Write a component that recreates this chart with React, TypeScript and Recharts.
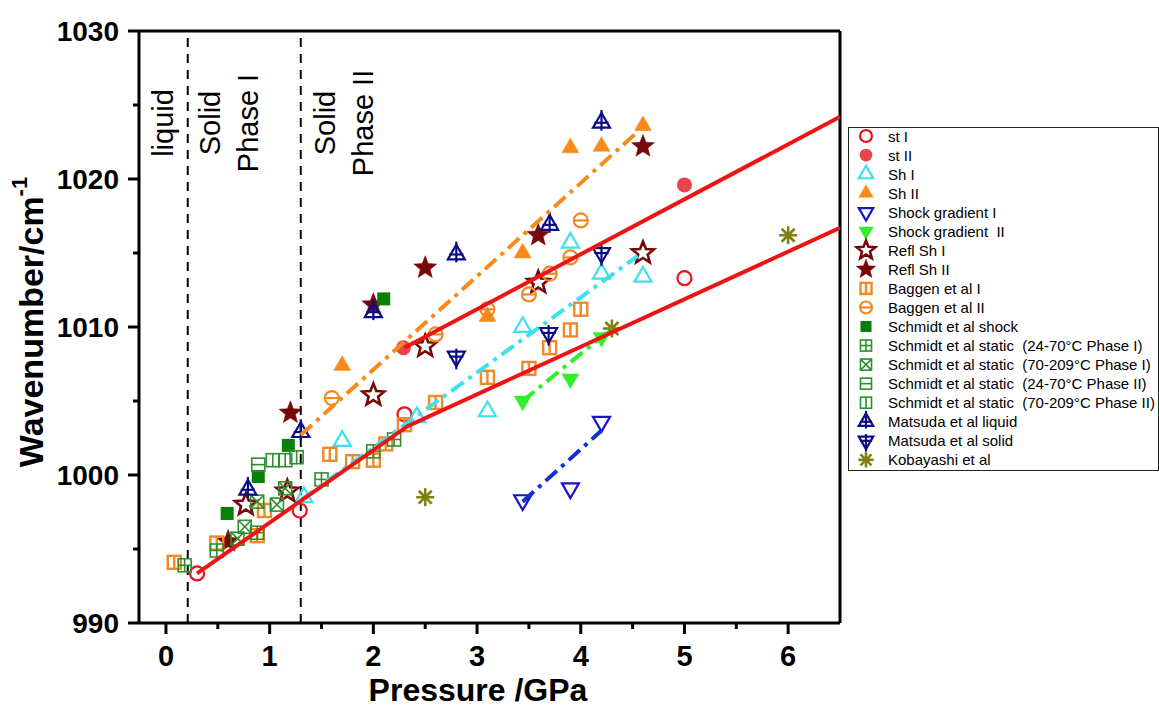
import React from 'react';
import { ComposedChart, Scatter, XAxis, YAxis, ReferenceLine, Legend } from 'recharts';

// ---------- data (pressure GPa, wavenumber cm-1) ----------
const stI = [[0.3, 993.35], [1.29, 997.6], [2.3, 1004.1], [5.0, 1013.3]];
const stII = [[2.29, 1008.6], [5.0, 1019.6]];
const shI = [[1.33, 998.5], [1.7, 1002.3], [2.42, 1003.9], [3.1, 1004.3], [3.44, 1010.0], [3.9, 1015.7], [4.2, 1013.6], [4.6, 1013.4]];
const shII = [[1.7, 1007.4], [3.1, 1010.7], [3.44, 1015.0], [3.9, 1022.1], [4.2, 1022.2], [4.6, 1023.6]];
const shockI = [[3.44, 998.3], [3.9, 999.1], [4.2, 1003.6]];
const shockII = [[3.44, 1005.0], [3.9, 1006.5], [4.2, 1009.3]];
const reflI = [[0.77, 998.0], [1.17, 998.9], [2.0, 1005.4], [2.5, 1008.7], [3.59, 1013.0], [4.6, 1015.0]];
const reflII = [[0.6, 995.5], [1.2, 1004.2], [2.0, 1011.5], [2.5, 1014.0], [3.59, 1016.2], [4.6, 1022.2]];
const baggenI = [[0.08, 994.1], [0.49, 995.4], [0.88, 995.9], [0.95, 997.6], [1.58, 1001.4], [1.8, 1000.9], [2.0, 1001.0], [2.12, 1002.1], [2.3, 1003.4], [2.6, 1004.9], [3.1, 1006.6], [3.5, 1007.2], [3.7, 1008.6], [3.9, 1009.8], [4.0, 1011.2]];
const baggenII = [[1.6, 1005.2], [2.6, 1009.5], [3.1, 1011.2], [3.5, 1012.2], [3.7, 1013.6], [3.9, 1014.7], [4.0, 1017.2]];
const schmidtShock = [[0.59, 997.4], [0.89, 999.9], [1.18, 1002.0], [2.1, 1011.9]];
const schmidtStatic1 = [[0.18, 993.9], [0.49, 994.9], [0.88, 996.1], [1.5, 999.7], [2.0, 1001.6], [2.2, 1002.4]];
const schmidtStatic2 = [[0.69, 995.7], [0.76, 996.5], [0.88, 998.2], [1.07, 998.0], [1.15, 999.1]];
const schmidtStatic3 = [[0.89, 1000.7]];
const schmidtStatic4 = [[1.03, 1001.0], [1.15, 1001.0], [1.26, 1001.2]];
const matsudaLiquid = [[0.79, 999.0], [1.3, 1002.9], [2.0, 1011.0], [2.8, 1014.9], [3.7, 1016.9], [4.2, 1023.8]];
const matsudaSolid = [[2.8, 1008.0], [3.69, 1009.6], [4.2, 1015.0]];
const kobayashi = [[2.5, 998.5], [4.3, 1009.9], [6.0, 1016.2]];

// fit lines
const fitStI = [[0.3, 993.35], [2.33, 1003.3], [6.5, 1016.7]];
const fitStII = [[2.3, 1008.6], [6.5, 1024.2]];
const fitShII = [[1.3, 1002.7], [4.55, 1023.2]];
const fitShI = [[1.3, 998.3], [4.55, 1014.8]];
const fitShockII = [[3.44, 1005.0], [4.3, 1009.9]];
const fitShockI = [[3.44, 998.2], [4.2, 1003.0]];

const phaseBounds = [0.21, 1.3];
const xTicks = [0, 0.5, 1, 1.5, 2, 2.5, 3, 3.5, 4, 4.5, 5, 5.5, 6];
const yTicks = [990, 995, 1000, 1005, 1010, 1015, 1020, 1025, 1030];

const FONT = 'Liberation Sans, Arial, sans-serif';
const toPts = (a: number[][]) => a.map(([x, y]) => ({ x, y }));

type Kind = 'circle' | 'circleFill' | 'triUp' | 'triUpFill' | 'triDown' | 'triDownFill' | 'star' | 'starFill' |
  'sqV' | 'circleH' | 'sqFill' | 'sqPlus' | 'sqX' | 'sqH' | 'triUpPlus' | 'triDownPlus' | 'asterisk';

function starPts(cx: number, cy: number, R: number, r: number) {
  const p: string[] = [];
  for (let i = 0; i < 10; i++) {
    const a = -Math.PI / 2 + (i * Math.PI) / 5;
    const rr = i % 2 === 0 ? R : r;
    p.push(`${cx + rr * Math.cos(a)},${cy + rr * Math.sin(a)}`);
  }
  return p.join(' ');
}

function marker(kind: Kind, color: string, cx: number, cy: number, k = 1) {
  const sw = 2.2;
  switch (kind) {
    case 'circle':
      return <circle cx={cx} cy={cy} r={7 * k} fill="none" stroke={color} strokeWidth={sw} />;
    case 'circleFill':
      return <circle cx={cx} cy={cy} r={7.5 * k} fill={color} />;
    case 'circleH':
      return (
        <g>
          <circle cx={cx} cy={cy} r={7 * k} fill="none" stroke={color} strokeWidth={sw} />
          <line x1={cx - 7 * k} x2={cx + 7 * k} y1={cy} y2={cy} stroke={color} strokeWidth={sw} />
        </g>
      );
    case 'triUp':
    case 'triUpFill':
    case 'triUpPlus': {
      const s = 17 * k, h = s * 0.866;
      const pts = `${cx},${cy - (2 * h) / 3} ${cx - s / 2},${cy + h / 3} ${cx + s / 2},${cy + h / 3}`;
      const fill = kind === 'triUpFill' ? color : 'none';
      return (
        <g>
          <polygon points={pts} fill={fill} stroke={color} strokeWidth={kind === 'triUpFill' ? 0.5 : sw} strokeLinejoin="miter" />
          {kind === 'triUpPlus' && (
            <g stroke={color} strokeWidth={sw}>
              <line x1={cx} x2={cx} y1={cy - (2 * h) / 3 - 3 * k} y2={cy + h / 3 + 3 * k} />
              <line x1={cx - s * 0.42} x2={cx + s * 0.42} y1={cy} y2={cy} />
            </g>
          )}
        </g>
      );
    }
    case 'triDown':
    case 'triDownFill':
    case 'triDownPlus': {
      const s = 17 * k, h = s * 0.866;
      const pts = `${cx},${cy + (2 * h) / 3} ${cx - s / 2},${cy - h / 3} ${cx + s / 2},${cy - h / 3}`;
      const fill = kind === 'triDownFill' ? color : 'none';
      return (
        <g>
          <polygon points={pts} fill={fill} stroke={color} strokeWidth={kind === 'triDownFill' ? 0.5 : sw} />
          {kind === 'triDownPlus' && (
            <g stroke={color} strokeWidth={sw}>
              <line x1={cx} x2={cx} y1={cy - h / 3 - 3 * k} y2={cy + (2 * h) / 3 + 3 * k} />
              <line x1={cx - s * 0.42} x2={cx + s * 0.42} y1={cy} y2={cy} />
            </g>
          )}
        </g>
      );
    }
    case 'star':
      return <polygon points={starPts(cx, cy, 11.5 * k, 5 * k)} fill="none" stroke={color} strokeWidth={2.6} strokeLinejoin="miter" />;
    case 'starFill':
      return <polygon points={starPts(cx, cy, 12 * k, 5.2 * k)} fill={color} stroke={color} strokeWidth={0.5} />;
    case 'sqFill': {
      const a = 6.5 * k;
      return <rect x={cx - a} y={cy - a} width={2 * a} height={2 * a} fill={color} />;
    }
    case 'sqV':
    case 'sqPlus':
    case 'sqX':
    case 'sqH': {
      const a = 6.5 * k;
      return (
        <g stroke={color} strokeWidth={kind === 'sqV' && color.startsWith('#f') ? 2.4 : 1.6} fill="none">
          <rect x={cx - a} y={cy - a} width={2 * a} height={2 * a} />
          {(kind === 'sqV' || kind === 'sqPlus') && <line x1={cx} x2={cx} y1={cy - a} y2={cy + a} />}
          {(kind === 'sqH' || kind === 'sqPlus') && <line x1={cx - a} x2={cx + a} y1={cy} y2={cy} />}
          {kind === 'sqX' && (
            <g>
              <line x1={cx - a} x2={cx + a} y1={cy - a} y2={cy + a} />
              <line x1={cx - a} x2={cx + a} y1={cy + a} y2={cy - a} />
            </g>
          )}
        </g>
      );
    }
    case 'asterisk': {
      const L = 9 * k, d = L * 0.72;
      return (
        <g stroke={color} strokeWidth={2.6}>
          <line x1={cx} x2={cx} y1={cy - L} y2={cy + L} />
          <line x1={cx - L} x2={cx + L} y1={cy} y2={cy} />
          <line x1={cx - d} x2={cx + d} y1={cy - d} y2={cy + d} />
          <line x1={cx - d} x2={cx + d} y1={cy + d} y2={cy - d} />
        </g>
      );
    }
  }
  return <g />;
}

const C = {
  red: '#e8141c', red2: '#e9444c', cyan: '#3ee0ee', orange: '#f98a1a', blue: '#1414c8', green: '#2ef02e',
  refl: '#780808', baggen: '#f08a24', sShock: '#0a7f0a', sStatic: '#2f8f2f', matsuda: '#0c0c86', koba: '#7f7f12',
};

const series: { name: string; data: number[][]; kind: Kind; color: string }[] = [
  { name: 'st I', data: stI, kind: 'circle', color: C.red },
  { name: 'st II', data: stII, kind: 'circleFill', color: C.red2 },
  { name: 'Sh I', data: shI, kind: 'triUp', color: C.cyan },
  { name: 'Sh II', data: shII, kind: 'triUpFill', color: C.orange },
  { name: 'Shock gradient I', data: shockI, kind: 'triDown', color: C.blue },
  { name: 'Shock gradient  II', data: shockII, kind: 'triDownFill', color: C.green },
  { name: 'Refl Sh I', data: reflI, kind: 'star', color: C.refl },
  { name: 'Refl Sh II', data: reflII, kind: 'starFill', color: C.refl },
  { name: 'Baggen et al I', data: baggenI, kind: 'sqV', color: C.baggen },
  { name: 'Baggen et al II', data: baggenII, kind: 'circleH', color: C.baggen },
  { name: 'Schmidt et al shock', data: schmidtShock, kind: 'sqFill', color: C.sShock },
  { name: 'Schmidt et al static  (24-70\u00B0C Phase I)', data: schmidtStatic1, kind: 'sqPlus', color: C.sStatic },
  { name: 'Schmidt et al static  (70-209\u00B0C Phase I)', data: schmidtStatic2, kind: 'sqX', color: C.sStatic },
  { name: 'Schmidt et al static  (24-70\u00B0C Phase II)', data: schmidtStatic3, kind: 'sqH', color: C.sStatic },
  { name: 'Schmidt et al static  (70-209\u00B0C Phase II)', data: schmidtStatic4, kind: 'sqV', color: C.sStatic },
  { name: 'Matsuda et al liquid', data: matsudaLiquid, kind: 'triUpPlus', color: C.matsuda },
  { name: 'Matsuda et al solid', data: matsudaSolid, kind: 'triDownPlus', color: C.matsuda },
  { name: 'Kobayashi et al', data: kobayashi, kind: 'asterisk', color: C.koba },
];

const DASHDOT = '15 6 4 6';
const fits: { data: number[][]; color: string; dash?: string }[] = [
  { data: fitShII, color: C.orange, dash: DASHDOT },
  { data: fitShI, color: C.cyan, dash: DASHDOT },
  { data: fitShockII, color: C.green, dash: DASHDOT },
  { data: fitShockI, color: '#1030d8', dash: DASHDOT },
  { data: fitStI, color: '#ee1414' },
  { data: fitStII, color: '#ee1414' },
];

const XTick = (props: any) => {
  const { x, y, payload } = props;
  const major = Number.isInteger(payload.value);
  return (
    <g>
      <line x1={x} x2={x} y1={y} y2={y + (major ? 11 : 6)} stroke="#000" strokeWidth={3} />
      {major && (
        <text x={x} y={y + 43} textAnchor="middle" fontFamily={FONT} fontWeight="bold" fontSize={29} fill="#000">
          {payload.value}
        </text>
      )}
    </g>
  );
};

const YTick = (props: any) => {
  const { x, y, payload } = props;
  const major = payload.value % 10 === 0;
  return (
    <g>
      <line x1={x} x2={x - (major ? 11 : 6)} y1={y} y2={y} stroke="#000" strokeWidth={3} />
      {major && (
        <text x={x - 20} y={y} textAnchor="end" dominantBaseline="central" fontFamily={FONT} fontWeight="bold" fontSize={28} fill="#000">
          {payload.value}
        </text>
      )}
    </g>
  );
};

const LegendBox = () => (
  <svg width={311} height={345} style={{ display: 'block' }}>
    <rect x={0.5} y={0.5} width={310} height={343} fill="#fff" stroke="#222" strokeWidth={1} />
    {series.map((s, i) => {
      const cy = 9 + i * 19.05;
      return (
        <g key={s.name}>
          {marker(s.kind, s.color, 18, cy, 0.85)}
          <text x={40} y={cy} dominantBaseline="central" fontFamily={FONT} fontSize={15} fill="#000" style={{ whiteSpace: 'pre' }}>
            {s.name}
          </text>
        </g>
      );
    })}
  </svg>
);

const PhaseLabel = (dx1: number, t1: string, dx2: number, t2: string, dx0?: number, t0?: string) => (props: any) => {
  const vx = props.viewBox.x;
  const cy = 123;
  const mk = (dx: number, t: string) => (
    <text key={t + dx} x={vx + dx} y={cy} transform={`rotate(-90, ${vx + dx}, ${cy})`} textAnchor="middle" dominantBaseline="central"
      fontFamily={FONT} fontSize={29} fill="#000">{t}</text>
  );
  return (
    <g>
      {t0 !== undefined && dx0 !== undefined && mk(dx0, t0)}
      {mk(dx1, t1)}
      {mk(dx2, t2)}
    </g>
  );
};

export default function App() {
  return (
    <div style={{ position: 'absolute', left: 0, top: 0, width: 1159, height: 707, background: '#fff' }}>
      <ComposedChart width={1159} height={707} margin={{ top: 31, right: 319, bottom: 0, left: 0 }}>
        <XAxis
          type="number" dataKey="x" domain={[-0.26, 6.5]} allowDataOverflow ticks={xTicks} interval={0}
          tick={<XTick />} tickLine={false} tickSize={0} tickMargin={0} height={84}
          axisLine={{ stroke: '#000', strokeWidth: 3 }}
          label={{
            content: () => (
              <text x={478} y={701} textAnchor="middle" fontFamily={FONT} fontWeight="bold" fontSize={32} fill="#000">Pressure /GPa</text>
            ),
          }}
        />
        <YAxis
          type="number" dataKey="y" domain={[990, 1030]} allowDataOverflow ticks={yTicks} interval={0}
          tick={<YTick />} tickLine={false} tickSize={0} tickMargin={0} width={139}
          axisLine={{ stroke: '#000', strokeWidth: 3 }}
          label={{
            content: () => (
              <text x={31} y={322} transform="rotate(-90, 31, 322)" textAnchor="middle" dominantBaseline="central"
                fontFamily={FONT} fontWeight="bold" fontSize={34} fill="#000">
                Wavenumber/cm<tspan fontSize={22} dy={-12}>-1</tspan>
              </text>
            ),
          }}
        />
        <ReferenceLine y={1030} stroke="#000" strokeWidth={3} />
        <ReferenceLine x={6.5} stroke="#000" strokeWidth={3} />
        <ReferenceLine x={phaseBounds[0]} stroke="#000" strokeWidth={2} strokeDasharray="9 7"
          label={{ content: PhaseLabel(22, 'Solid', 60, 'Phase I', -25, 'liquid') }} />
        <ReferenceLine x={phaseBounds[1]} stroke="#000" strokeWidth={2} strokeDasharray="9 7"
          label={{ content: PhaseLabel(24, 'Solid', 62, 'Phase II') }} />
        {series.map((s) => (
          <Scatter key={s.name} name={s.name} data={toPts(s.data)} isAnimationActive={false} legendType="none"
            shape={(p: any) => marker(s.kind, s.color, p.cx, p.cy)} />
        ))}
        {fits.map((f, i) => (
          <Scatter key={'fit' + i} data={toPts(f.data)} isAnimationActive={false} legendType="none"
            line={{ stroke: f.color, strokeWidth: 4, strokeDasharray: f.dash, fill: 'none' }}
            lineJointType="linear"
            shape={() => <g />} />
        ))}
        <Legend layout="vertical" align="center" verticalAlign="middle" content={() => <LegendBox />}
          wrapperStyle={{ left: 848, top: 127, width: 311, height: 345 }} />
      </ComposedChart>
    </div>
  );
}
